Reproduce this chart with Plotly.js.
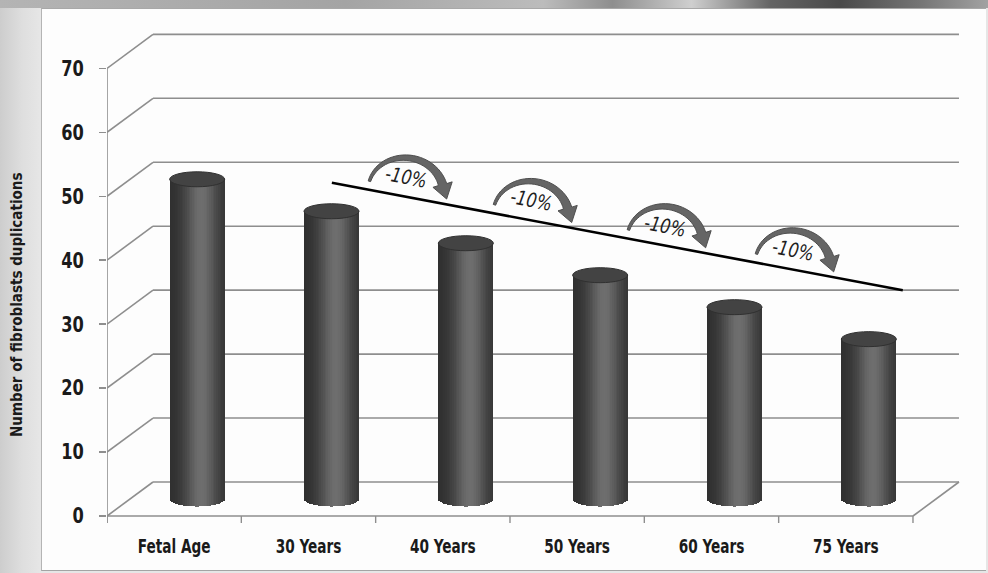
<!DOCTYPE html>
<html>
<head>
<meta charset="utf-8">
<script src="https://cdn.plot.ly/plotly-3.0.1.min.js"></script>
<style>
  html, body { margin: 0; padding: 0; width: 988px; height: 573px; overflow: hidden; background: #e2e2e2; }
  #frame { position: absolute; left: 0; top: 0; width: 988px; height: 573px;
    background: linear-gradient(90deg, #cdcdcd 0px, #dedede 22px, #e6e6e6 40px, #e6e6e6 100%); }
  #band { position: absolute; left: 0; top: 0; width: 988px; height: 8px;
    background: linear-gradient(90deg, #b4b4b4 0%, #a4a4a4 35%, #bcbcbc 55%, #8e8e8e 62%, #cfcfcf 70%, #646464 78%, #4a4a4a 85%, #747474 93%, #a2a2a2 100%); }
  #panel { position: absolute; left: 41px; top: 8px; width: 945px; height: 563px; background: #fdfdfd;
    border-top: 1px solid #a8a8a8; border-left: 1px solid #b4b4b4; border-bottom: 1px solid #a4a4a4; box-sizing: border-box; }
  #chart { position: absolute; left: 0; top: 0; width: 988px; height: 573px; }
</style>
</head>
<body>
<div id="frame"></div>
<div id="band"></div>
<div id="panel"></div>
<div id="chart"></div>
<script>
// ---- data ----
const categories = ["Fetal Age", "30 Years", "40 Years", "50 Years", "60 Years", "75 Years"];
const duplications = [50, 45, 40, 35, 30, 25];
const yTicks = [0, 10, 20, 30, 40, 50, 60, 70];
const changeLabels = ["-10%", "-10%", "-10%", "-10%"];
// trend line end points, in axis units of the front plane
const trendStart = [1.174, 52.1];
const trendEnd = [5.424, 35.3];
// where each curved "-10%" arrow sits along the trend line (x axis units)
const arrowX = [1.725, 2.656, 3.653, 4.606];

// ---- geometry ----
const W = 988, H = 573;
const M = { l: 107, r: 28, t: 30, b: 41 };
const X_RANGE = [-0.5, 5.85];
const Y_RANGE = [-2.5, 76];
const SX = (W - M.l - M.r) / (X_RANGE[1] - X_RANGE[0]);   // px per x unit
const SY = (H - M.t - M.b) / (Y_RANGE[1] - Y_RANGE[0]);   // px per y unit
const DX = 46 / SX, DY = 34 / SY;                         // depth of the 3-D box
const R = 27.5 / SX, RY = 7.5 / SY;                       // cylinder radius / ellipse half-height
const GRID = '#8e8e8e';
const FONT = '"DejaVu Sans Condensed", "Liberation Sans Narrow", "DejaVu Sans", sans-serif';

const nCat = categories.length;
const shapes = [];
const line = (x0, y0, x1, y1, color, width, layer) =>
  ({ type: 'line', xref: 'x', yref: 'y', x0, y0, x1, y1, layer: layer || 'below',
     line: { color, width } });

// back wall and left wall
yTicks.forEach(v => {
  shapes.push(line(-0.5 + DX, v + DY, nCat - 0.5 + DX, v + DY, GRID, 1.6));
  shapes.push(line(-0.5, v, -0.5 + DX, v + DY, GRID, 1.6));
});
// floor edges
shapes.push(line(-0.5, 0, nCat - 0.5, 0, GRID, 1.6));
shapes.push(line(nCat - 0.5, 0, nCat - 0.5 + DX, DY, GRID, 1.6));
// front vertical axis and category boundary ticks
const tickDown = 7 / SY;
shapes.push(line(-0.5, -tickDown, -0.5, yTicks[yTicks.length - 1], GRID, 1.6));
for (let b = 0; b <= nCat; b++) {
  shapes.push(line(b - 0.5, 0, b - 0.5, -tickDown, GRID, 1.4));
}

// ---- cylinders: bodies as shaded vertical strips ----
const traces = [];
const N = 32;
const cx = categories.map((_, i) => i + DX / 2);
for (let j = 0; j < N; j++) {
  const t0 = -1 + 2 * j / N, t1 = -1 + 2 * (j + 1) / N, tc = (t0 + t1) / 2;
  const sag = RY * Math.sqrt(Math.max(0, 1 - tc * tc));
  const L = Math.round(46 + 64 * Math.exp(-Math.pow((tc - 0.15) / 0.6, 2)));
  traces.push({
    type: 'bar',
    x: cx,
    y: duplications.map(v => v + sag),
    base: duplications.map(() => DY / 2 - sag),
    width: (t1 - t0) * R * 1.06,
    offset: t0 * R,
    marker: { color: `rgb(${L},${L},${L})`, line: { width: 0 } },
    hoverinfo: 'skip',
    showlegend: false
  });
}
// cylinder tops
duplications.forEach((v, i) => {
  shapes.push({
    type: 'circle', xref: 'x', yref: 'y', layer: 'above',
    x0: cx[i] - R, x1: cx[i] + R, y0: v + DY / 2 - RY, y1: v + DY / 2 + RY,
    fillcolor: '#434343', line: { color: '#303030', width: 1 }
  });
});

// ---- trend line ----
shapes.push(line(trendStart[0], trendStart[1], trendEnd[0], trendEnd[1], '#000000', 2.6, 'above'));
const trendY = x => trendStart[1] + (x - trendStart[0]) * (trendEnd[1] - trendStart[1]) / (trendEnd[0] - trendStart[0]);
const theta = Math.atan(((trendStart[1] - trendEnd[1]) * SY) / ((trendEnd[0] - trendStart[0]) * SX));

// curved arrow, built in pixels around its centre then mapped to axis units
function arrowPath(ax, ay) {
  const rx = 38, ry = 34, phi0 = 174 * Math.PI / 180, phi1 = 24 * Math.PI / 180, steps = 30;
  const outer = [], inner = [];
  for (let s = 0; s <= steps; s++) {
    const f = s / steps, p = phi0 + (phi1 - phi0) * f, w = 2.5 + 6 * f;
    outer.push([Math.cos(p) * (rx + w / 2), Math.sin(p) * (ry + w / 2)]);
    inner.push([Math.cos(p) * (rx - w / 2), Math.sin(p) * (ry - w / 2)]);
  }
  const mx = rx * Math.cos(phi1), my = ry * Math.sin(phi1);
  let tx = rx * Math.sin(phi1), ty = -ry * Math.cos(phi1);
  const tn = Math.hypot(tx, ty); tx /= tn; ty /= tn;
  const nx = -ty, ny = tx, hw = 10, hl = 15;
  const head = [[mx + nx * hw, my + ny * hw], [mx + tx * hl, my + ty * hl], [mx - nx * hw, my - ny * hw]];
  const pts = outer.concat(head, inner.reverse());
  const c = Math.cos(theta), s = Math.sin(theta);
  return pts.map(([x, y], k) => {
    const xr = x * c + y * s, yr = -x * s + y * c;
    return (k ? 'L' : 'M') + (ax + xr / SX).toFixed(4) + ',' + (ay + yr / SY).toFixed(4);
  }).join(' ') + ' Z';
}

const annotations = [];
changeLabels.forEach((txt, k) => {
  const ax = arrowX[k];
  const ay = trendY(ax) + 5 / SY;
  shapes.push({ type: 'path', xref: 'x', yref: 'y', layer: 'above', path: arrowPath(ax, ay),
    fillcolor: '#656565', line: { color: '#4e4e4e', width: 1 } });
  annotations.push({ x: ax, y: ay + 15 / SY, xref: 'x', yref: 'y', text: txt, showarrow: false,
    textangle: 11, xanchor: 'center', yanchor: 'middle',
    font: { family: FONT, size: 20, style: 'italic', color: '#1e1e1e' } });
});

// y-axis title
annotations.push({
  xref: 'paper', yref: 'paper', x: (17 - M.l) / (W - M.l - M.r), y: (H - M.b - 305) / (H - M.t - M.b),
  text: 'Number of fibroblasts duplications', showarrow: false, textangle: -90,
  xanchor: 'center', yanchor: 'middle',
  font: { family: FONT, size: 15, weight: 700, color: '#1a1a1a' }
});

const tickFont = { family: FONT, size: 20, weight: 700, color: '#1a1a1a' };

const layout = {
  width: W, height: H, margin: M,
  paper_bgcolor: 'rgba(0,0,0,0)', plot_bgcolor: 'rgba(0,0,0,0)',
  barmode: 'overlay', bargap: 0, showlegend: false,
  xaxis: { type: 'linear', range: X_RANGE, tickvals: categories.map((_, i) => i), ticktext: categories,
    ticks: '', showgrid: false, zeroline: false, showline: false, tickfont: tickFont, fixedrange: true },
  yaxis: { range: Y_RANGE, tickvals: yTicks, ticks: 'outside', ticklen: 7, tickwidth: 1.5, tickcolor: GRID,
    ticklabelstandoff: 11, showgrid: false, zeroline: false, showline: false,
    tickfont: Object.assign({}, tickFont, { size: 21 }), fixedrange: true },
  shapes, annotations
};

// narrow the lettering horizontally, keeping each label anchored in place
function squeeze(elements, sx, anchor) {
  elements.forEach(t => {
    const b = t.getBBox();
    const ox = anchor === 'end' ? b.x + b.width : b.x + b.width / 2;
    const prev = t.getAttribute('transform') || '';
    t.setAttribute('transform', `${prev} translate(${ox},0) scale(${sx},1) translate(${-ox},0)`);
  });
}

Plotly.newPlot('chart', traces, layout, { staticPlot: true, displayModeBar: false }).then(() => {
  const q = s => Array.from(document.querySelectorAll(s));
  squeeze(q('#chart .xtick text'), 0.76, 'middle');
  squeeze(q('#chart .ytick text'), 0.86, 'end');
  squeeze(q('#chart .annotation-text').filter(t => t.textContent === '-10%'), 0.9, 'middle');
});
</script>
</body>
</html>
